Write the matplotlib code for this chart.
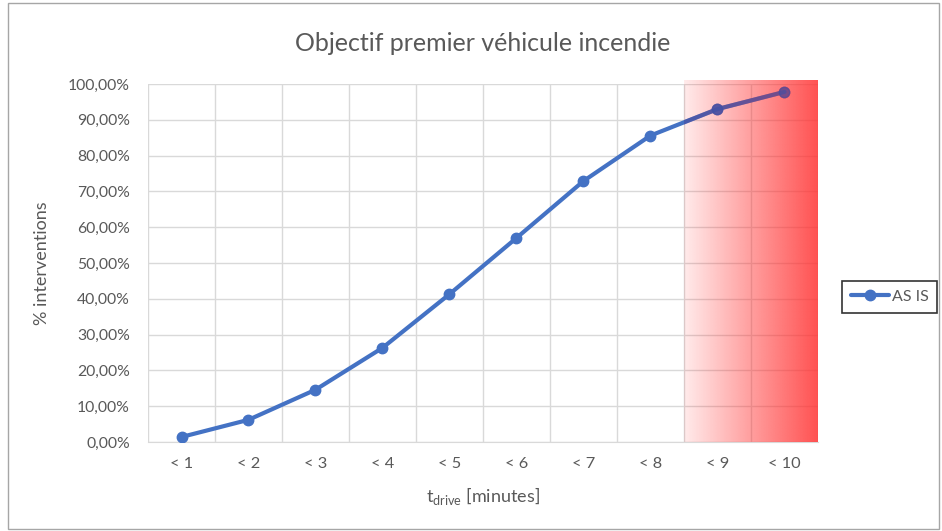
import numpy as np
import matplotlib
matplotlib.use("Agg")
import matplotlib.pyplot as plt
from matplotlib.patches import Rectangle
from matplotlib.ticker import FuncFormatter, MultipleLocator

categories = ["< 1", "< 2", "< 3", "< 4", "< 5", "< 6", "< 7", "< 8", "< 9", "< 10"]
values = [1.4, 6.2, 14.6, 26.3, 41.3, 57.0, 72.9, 85.6, 93.0, 97.8]
series_name = "AS IS"
title = "Objectif premier véhicule incendie"
ylabel = "% interventions"
xlabel = r"t$_{\mathrm{drive}}$ [minutes]"
highlight_start = 9  # categories from "< 9" onwards are highlighted

plt.rcParams['font.family'] = ['Lato', 'DejaVu Sans']
plt.rcParams['mathtext.fontset'] = 'custom'
plt.rcParams['mathtext.rm'] = 'Lato'

gray = '#595959'
blue = '#4472C4'
fig = plt.figure(figsize=(9.42, 5.31), dpi=100)
ax = fig.add_axes([148/942, 89/531, 670/942, 358/531])

x = np.arange(1, len(categories) + 1)
ax.plot(x, values, color=blue, lw=3.0, marker='o', ms=7.5, zorder=3,
        label=series_name, solid_capstyle='round')

# red gradient highlight
x0, x1 = highlight_start - 0.5, len(categories) + 0.5
grad = np.zeros((2, 256, 4))
grad[..., 0] = 1.0
grad[..., 1] = 0.2
grad[..., 2] = 0.2
grad[..., 3] = np.linspace(0.1, 0.85, 256)[None, :]
ax.imshow(grad, extent=(x0, x1, 0, 101),
          aspect='auto', zorder=4, clip_on=False, interpolation='bilinear')

# line seen through the semi-transparent highlight (only inside it)
over, = ax.plot(x, values, color='#3A4FA8', lw=3.0, marker='o', ms=7.5, zorder=5,
                alpha=0.55, solid_capstyle='round')
clip = Rectangle((x0, 0), x1 - x0, 101, transform=ax.transData)
over.set_clip_path(clip)

ax.set_xticks(x)
ax.set_xticklabels(categories)
ax.xaxis.set_minor_locator(MultipleLocator(1, offset=0.5))
ax.yaxis.set_major_locator(MultipleLocator(10))
ax.yaxis.set_major_formatter(FuncFormatter(lambda v, p: f"{v:.2f}%".replace('.', ',')))
ax.grid(which='minor', axis='x', color='#D9D9D9', lw=1)
ax.grid(which='major', axis='y', color='#D9D9D9', lw=1)
ax.set_axisbelow(True)
ax.tick_params(which='both', length=0, colors=gray, labelsize=11.3)
ax.tick_params(axis='x', labelsize=11.8, pad=11)
ax.tick_params(axis='y', pad=13)
for s in ['top', 'right', 'left']:
    ax.spines[s].set_visible(False)
ax.spines['bottom'].set_color('#D9D9D9')

ax.set_xlim(0.5, len(categories) + 0.5)
ax.set_ylim(0, 100)

ax.set_title(title, color=gray, fontsize=18, pad=24)
ax.set_ylabel(ylabel, color=gray, fontsize=13, labelpad=13)
ax.set_xlabel(xlabel, color=gray, fontsize=13, labelpad=10)

leg = ax.legend(loc='center left', bbox_to_anchor=(842/942, 1 - 297/531),
                bbox_transform=fig.transFigure,
                frameon=True, fancybox=False, edgecolor='black', fontsize=11.5,
                handlelength=2.4, handletextpad=0.15, borderpad=0.55,
                borderaxespad=0, labelcolor=gray)
leg.get_frame().set_linewidth(1.2)

fig.patches.append(Rectangle((8/942, 2/531), 931/942, 526/531, transform=fig.transFigure,
                             fill=False, edgecolor='#A6A6A6', lw=1))

fig.savefig("out.png", dpi=100)
